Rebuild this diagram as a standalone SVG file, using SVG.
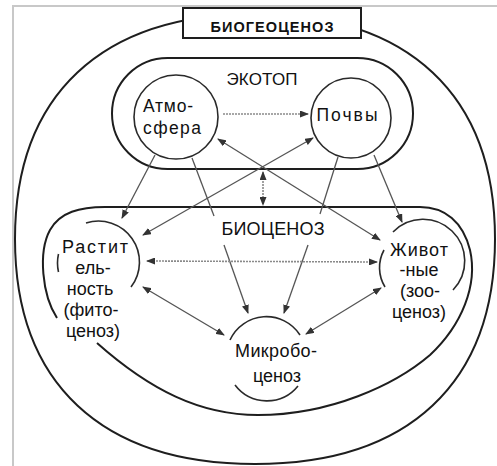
<svg xmlns="http://www.w3.org/2000/svg" width="497" height="466" viewBox="0 0 497 466">
<style>
text{font-family:"Liberation Sans",Arial,sans-serif;fill:#111;}
.lbl{font-size:18px;text-anchor:middle;}
.ttl{font-size:17px;text-anchor:middle;}
.bord{fill:none;stroke:#1e1e1e;stroke-width:2;}
.node{fill:none;stroke:#2a2a2a;stroke-width:1.6;}
.c{fill:none;stroke:#555;stroke-width:1.3;}
.g{fill:none;stroke:#8a8a8a;stroke-width:1.6;stroke-dasharray:2 1;}
</style>
<defs>
<marker id="ah" markerUnits="userSpaceOnUse" markerWidth="9" markerHeight="7" refX="8" refY="3.5" orient="auto-start-reverse">
<path d="M0,0 L9,3.5 L0,7 z" fill="#333"/>
</marker>
</defs>
<rect width="497" height="466" fill="#fff"/>
<path d="M13,466 L13,6 L497,6" fill="none" stroke="#c8c8c8" stroke-width="2"/>

<g id="biogeocenoz">
<path class="bord" d="M495,239 C495,383 408.6,464 255,464 C101.4,464 15,383 15,239 C15,95 101.4,14 255,14 C408.6,14 495,95 495,239 Z"/>
<rect x="183" y="8" width="178" height="30" fill="#fff" stroke="#1e1e1e" stroke-width="2"/>
<text x="272" y="32" style="font-size:14.5px;font-weight:bold;text-anchor:middle" textLength="123">БИОГЕОЦЕНОЗ</text>
</g>

<g id="ekotop">
<rect class="bord" x="112" y="58" width="301" height="111" rx="55.5"/>
<text class="ttl" x="262" y="85" textLength="71">ЭКОТОП</text>
</g>

<g id="atmosfera">
<circle class="node" cx="176" cy="117" r="42"/>
<text x="143" y="112" style="font-size:17.5px" textLength="50">Атмо-</text>
<text x="143" y="134" style="font-size:17.5px" textLength="58">сфера</text>
</g>

<g id="pochvy">
<circle class="node" cx="351" cy="118" r="40"/>
<text class="lbl" x="347" y="121" style="font-size:17.5px" textLength="61">Почвы</text>
</g>

<g id="biocenoz">
<path class="bord" d="M97,343 C150,390 200,415 258,415 C330,415 395,385 430,355 C462,325 478,285 470,250 C463,222 445,207 420,207 L105,207 C80,207 60,212 50,230 C38,252 42,295 57,318"/>
<text class="ttl" x="273" y="235" style="font-size:18px" textLength="103">БИОЦЕНОЗ</text>
</g>

<g id="rastitelnost">
<path class="node" d="M86,223 A41,41 0 0 1 131,287"/>
<path class="node" d="M58.5,254 A41,41 0 0 0 58.5,272"/>
<text class="lbl" x="95" y="253" textLength="66">Растит</text>
<text class="lbl" x="93" y="274">ель-</text>
<text class="lbl" x="90" y="295">ность</text>
<text class="lbl" x="91" y="316">(фито-</text>
<text class="lbl" x="93" y="337">ценоз)</text>
</g>

<g id="zhivotnye">
<path class="node" d="M393,232 A37,37 0 0 1 453,290"/>
<path class="node" d="M384,250 A37,37 0 0 0 385,287"/>
<text class="lbl" x="419" y="256" textLength="58">Живот</text>
<text class="lbl" x="419" y="276">-ные</text>
<text class="lbl" x="420" y="297">(зоо-</text>
<text class="lbl" x="419" y="318">ценоз)</text>
</g>

<g id="mikrobocenoz">
<path class="node" d="M230,340 A40,40 0 0 1 300,335"/>
<path class="node" d="M235,385 A40,40 0 0 0 298,386"/>
<text class="lbl" x="276" y="357" textLength="82">Микробо-</text>
<text class="lbl" x="277" y="382">ценоз</text>
</g>

<g id="connectors">
<line class="g" x1="223" y1="114" x2="308" y2="114" marker-end="url(#ah)"/>
<line class="c" x1="218" y1="139" x2="380" y2="240" marker-start="url(#ah)" marker-end="url(#ah)"/>
<line class="c" x1="313" y1="138" x2="143" y2="235" marker-start="url(#ah)" marker-end="url(#ah)"/>
<line class="g" x1="263" y1="172" x2="263" y2="205" marker-start="url(#ah)" marker-end="url(#ah)"/>
<line class="c" x1="155" y1="155" x2="122" y2="218" marker-end="url(#ah)"/>
<line class="c" x1="192" y1="158" x2="214" y2="216"/>
<line class="c" x1="224" y1="245" x2="248" y2="313" marker-end="url(#ah)"/>
<line class="c" x1="338" y1="157" x2="320" y2="214"/>
<line class="c" x1="308" y1="245" x2="284" y2="313" marker-end="url(#ah)"/>
<line class="c" x1="374" y1="155" x2="402" y2="222" marker-end="url(#ah)"/>
<line class="g" x1="147" y1="261" x2="377" y2="262" marker-start="url(#ah)" marker-end="url(#ah)"/>
<line class="c" x1="143" y1="287" x2="224" y2="335" marker-start="url(#ah)" marker-end="url(#ah)"/>
<line class="c" x1="381" y1="288" x2="306" y2="334" marker-start="url(#ah)" marker-end="url(#ah)"/>
</g>
</svg>
